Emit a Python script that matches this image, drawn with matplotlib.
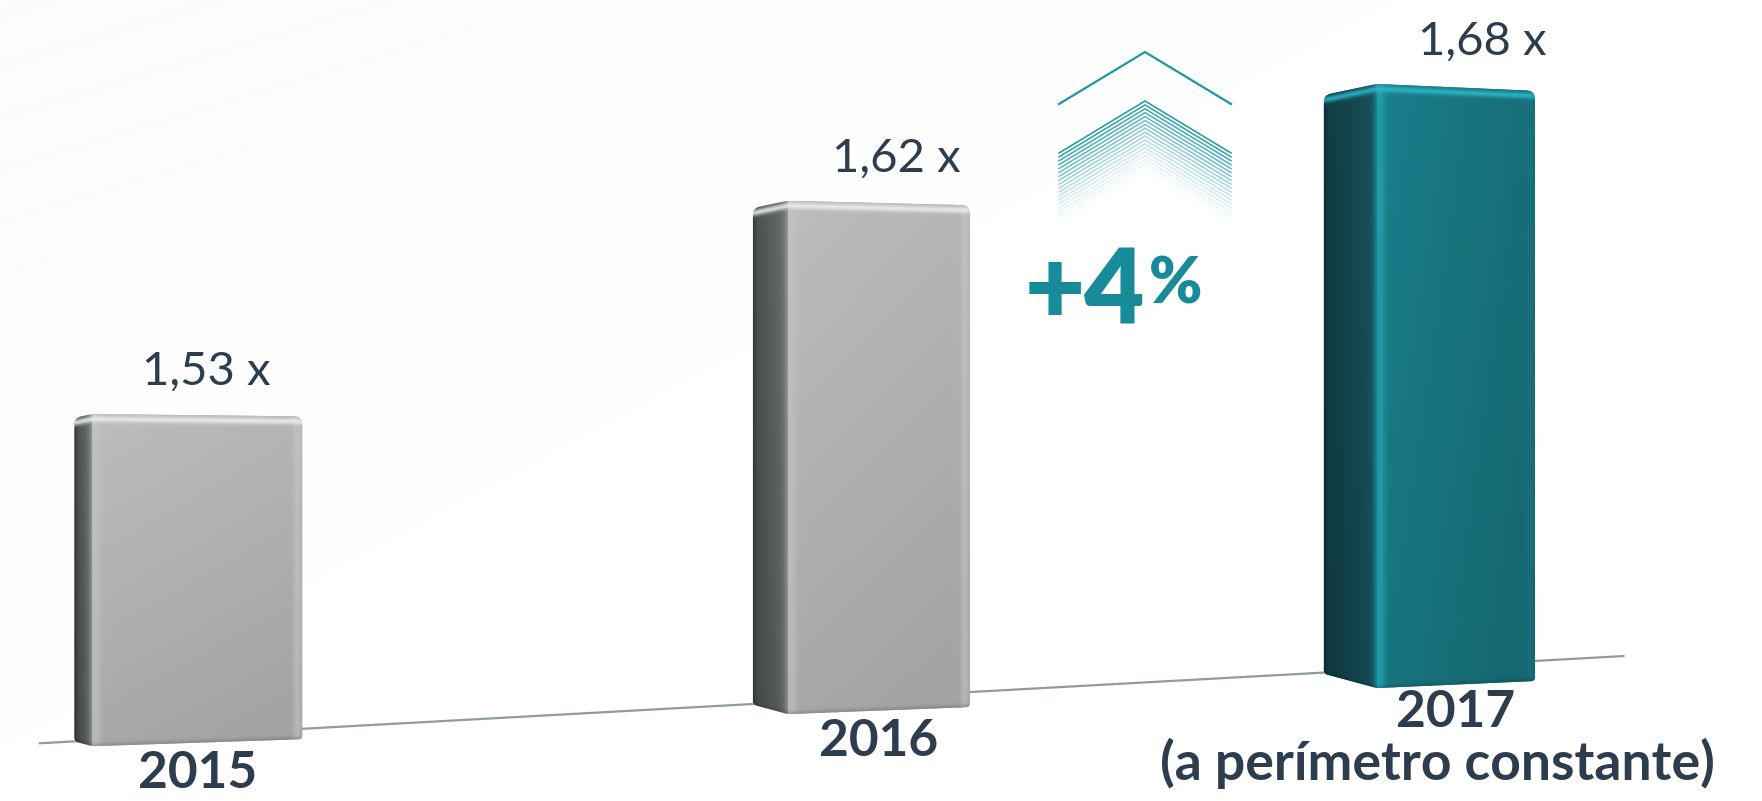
import numpy as np
import matplotlib
matplotlib.use("Agg")
import matplotlib.pyplot as plt
from matplotlib.path import Path
from matplotlib.patches import PathPatch

# ---------------- data ----------------
years = ["2015", "2016", "2017"]
year_notes = ["", "", "(a perímetro constante)"]
multiples = [1.53, 1.62, 1.68]
value_labels = ["1,53 x", "1,62 x", "1,68 x"]
growth_text = "+4"
growth_unit = "%"

# ---------------- style ----------------
W, H = 1762, 801
TEXT = "#2e3d4d"
TEAL = "#178b99"
FONT = ["Lato", "DejaVu Sans"]
PERSP = 0.0924                      # perspective factor of the x scale
YPERSP = 1.224                      # perspective offset of the y scale
XLIM = (-0.2524, 2.6647)
YLIM = (1.4157, 1.7287)
bar_widths = [0.310, 0.352, 0.403]  # data units (perspective)
side_px = [18, 35, 53]              # visible left side face, px
FLOOR = [(0.022, 0.072), (0.922, 0.181)]  # floor line, axes fraction

GRAY = dict(side0=(0.29, 0.31, 0.31), side1=(0.43, 0.45, 0.45),
            edge=(0.76, 0.77, 0.77), front0=(0.74, 0.74, 0.74),
            front1=(0.71, 0.71, 0.71), rim=(0.80, 0.81, 0.81),
            tophi=(0.93, 0.93, 0.93), vdark=0.11, base="#b0b0b0",
            edge_k=0.6, rim_k=0.45)
TEALP = dict(side0=(0.07, 0.24, 0.27), side1=(0.09, 0.33, 0.37),
             edge=(0.13, 0.63, 0.69), front0=(0.10, 0.50, 0.54),
             front1=(0.09, 0.43, 0.47), rim=(0.10, 0.46, 0.51),
             tophi=(0.17, 0.72, 0.79), vdark=0.08, base="#187a85",
             edge_k=0.85, rim_k=0.5)
palettes = [GRAY, GRAY, TEALP]

fig = plt.figure(figsize=(W / 100, H / 100), dpi=100)
fig.patch.set_facecolor("white")

# background axes (pixel coordinates)
axb = fig.add_axes([0, 0, 1, 1], zorder=0)
axb.set_xlim(0, W); axb.set_ylim(H, 0); axb.axis("off")

# data axes (perspective scales)
ax = fig.add_axes([0, 0, 1, 1], zorder=1)
ax.set_xscale("function", functions=(lambda x: x / (1 + PERSP * x),
                                     lambda g: g / (1 - PERSP * g)))
ax.set_yscale("function", functions=(lambda v: np.log(np.maximum(v - YPERSP, 1e-9)),
                                     lambda g: np.exp(g) + YPERSP))
ax.set_xlim(*XLIM); ax.set_ylim(*YLIM)
ax.patch.set_visible(False); ax.axis("off")

# overlay axes (pixel coordinates)
axo = fig.add_axes([0, 0, 1, 1], zorder=2)
axo.set_xlim(0, W); axo.set_ylim(H, 0); axo.axis("off")
axo.patch.set_visible(False)

# faint diagonal background stripes
yy, xx = np.mgrid[0:H, 0:W].astype(float)
stripe = (0.5 + 0.5 * np.sin(2 * np.pi * (yy + 0.30 * xx) / 52.0)) ** 2
mask = np.clip(1 - (xx / 1400 + yy / 750), 0, 1)
bg = 1 - 0.02 * stripe * mask
axb.imshow(np.dstack([bg, bg, bg]), extent=(0, W, H, 0), aspect="auto",
           interpolation="bilinear", zorder=0)

# floor line
(fx0, fy0), (fx1, fy1) = FLOOR
p0 = ax.transAxes.transform((fx0, fy0)); p1 = ax.transAxes.transform((fx1, fy1))
axb.plot([p0[0], p1[0]], [H - p0[1], H - p1[1]], color="#8e9ba6", lw=1.6,
         solid_capstyle="butt", zorder=1)


def floor_disp_y(xd):
    return p0[1] + (p1[1] - p0[1]) * (xd - p0[0]) / (p1[0] - p0[0])


# bar bottoms from the perspective floor
xs = np.arange(len(years))
bottoms = []
for x, s in zip(xs, side_px):
    cx = ax.transData.transform((x, multiples[0]))[0]
    dy = floor_disp_y(cx) - (6 + 0.29 * s)
    bottoms.append(ax.transData.inverted().transform((cx, dy))[1])
bottoms = np.array(bottoms)
heights = np.array(multiples) - bottoms
bars = ax.bar(xs, heights, bottom=bottoms, width=bar_widths,
              color=[p["base"] for p in palettes], linewidth=0)


def rounded_path(pts, radii):
    pts = [np.asarray(p, float) for p in pts]
    n = len(pts)
    verts, codes = [], []
    for i in range(n):
        a, b, c = pts[i - 1], pts[i], pts[(i + 1) % n]
        r = radii[i]
        if r <= 0:
            verts.append(b); codes.append(Path.LINETO)
            continue
        v1 = a - b; l1 = np.hypot(*v1)
        v2 = c - b; l2 = np.hypot(*v2)
        q1 = b + v1 / l1 * min(r, l1 / 2)
        q2 = b + v2 / l2 * min(r, l2 / 2)
        verts += [q1, b, q2]
        codes += [Path.LINETO, Path.CURVE3, Path.CURVE3]
    codes[0] = Path.MOVETO
    verts.append(verts[0]); codes.append(Path.CLOSEPOLY)
    return Path(verts, codes)


def lerp(c0, c1, t):
    t = t[..., None]
    return np.asarray(c0) * (1 - t) + np.asarray(c1) * t


def blend(col, target, k):
    return col * (1 - k)[..., None] + np.asarray(target) * k[..., None]


label_anchor = []
for bar, s, pal in zip(bars, side_px, palettes):
    ext = bar.get_window_extent()
    xl, xr = ext.x0, ext.x1
    top, bot = H - ext.y1, H - ext.y0
    xf = xl + s
    dts, dtr = 0.21 * s, 0.13 * s
    dbs, dbr = 0.27 * s, 7.0
    pts = [(xl, top + dts), (xf, top), (xr, top + dtr),
           (xr, bot - dbr), (xf, bot), (xl, bot - dbs)]
    radii = [7, 5, 8, 4, 3, 4]
    path = rounded_path(pts, radii)
    clip = PathPatch(path, transform=axo.transData, facecolor="none",
                     edgecolor="none")
    axo.add_patch(clip)
    bar.set_clip_path(path, axo.transData)

    # shading image
    x0, x1 = int(np.floor(xl)) - 1, int(np.ceil(xr)) + 1
    y0, y1 = int(np.floor(top)) - 1, int(np.ceil(bot)) + 1
    X, Y = np.meshgrid(np.arange(x0, x1) + 0.5, np.arange(y0, y1) + 0.5)
    fw = xr - xf
    ytop = np.where(X < xf, top + dts * np.clip(xf - X, 0, s) / s,
                    top + dtr * np.clip(X - xf, 0, fw) / fw)
    ybot = np.where(X < xf, bot - dbs * np.clip(xf - X, 0, s) / s,
                    bot - dbr * np.clip(X - xf, 0, fw) / fw)
    dtop = Y - ytop
    dbot = ybot - Y
    vert = np.clip((Y - top) / (bot - top), 0, 1)

    tside = np.clip((X - xl) / s, 0, 1)
    tfront = np.clip((X - xf) / fw, 0, 1)
    col_side = lerp(pal["side0"], pal["side1"], tside ** 1.3)
    col_front = lerp(pal["front0"], pal["front1"], tfront)
    col = np.where((X < xf)[..., None], col_side, col_front)
    col = col * (1 - pal["vdark"] * vert)[..., None]
    # soft highlight at the front vertical edge
    h = np.exp(-((X - (xf + 3.0)) / 5.5) ** 2)
    col = blend(col, pal["edge"], pal["edge_k"] * h)
    # soft left edge
    le = np.exp(-((X - xl) / 3.0) ** 2)
    col = col * (1 - 0.25 * le)[..., None]
    # right rim light
    rr = np.exp(-((xr - X - 5) / 4.0) ** 2)
    col = blend(col, pal["rim"], pal["rim_k"] * rr)
    # top rim highlight
    tr = np.exp(-((dtop - 5.0) / 3.2) ** 2)
    col = blend(col, pal["tophi"], 0.85 * tr)
    # bottom shadow
    bs = np.exp(-(dbot / 3.0) ** 2)
    col = col * (1 - 0.15 * bs)[..., None]
    col = np.clip(col, 0, 1)
    im = axo.imshow(col, extent=(x0, x1, y1, y0), interpolation="bilinear",
                    aspect="auto", zorder=3)
    im.set_clip_path(clip)
    label_anchor.append(((xf + xr) / 2, top, bot, s))

axo.set_xlim(0, W); axo.set_ylim(H, 0)

# value labels and year labels
for (fc, top, bot, s), vl, yr, note in zip(label_anchor, value_labels, years, year_notes):
    axo.text(fc + 0.5 * s, top - 29, vl, ha="center", va="baseline",
             fontsize=34, color=TEXT, family=FONT, zorder=5)
    yoff = 39 if note else 42
    axo.text(fc, bot + yoff, yr, ha="center", va="baseline", fontsize=37,
             fontweight="bold", color=TEXT, family=FONT, zorder=5)
    if note:
        axo.text(fc - 18, bot + 92, note, ha="center", va="baseline",
                 fontsize=38.5, fontweight="bold", color=TEXT, family=FONT,
                 zorder=5)

# growth chevrons and label
cx, ytip, half, drop = 1145, 52, 86, 52
axo.plot([cx - half, cx, cx + half], [ytip + drop, ytip, ytip + drop],
         color="#1a98a6", lw=1.6, zorder=4)
n_lines = 20
for i in range(n_lines):
    a = (1 - i / n_lines) ** 1.6
    yt = 101 + 3.9 * i
    axo.plot([cx - half, cx, cx + half], [yt + drop, yt, yt + drop],
             color="#1a98a6", lw=1.1, alpha=a, zorder=4)

axo.text(1145, 325, growth_text, ha="right", va="baseline", fontsize=75,
         fontweight="heavy", color=TEAL, family=FONT, zorder=5)
axo.text(1149, 303, growth_unit, ha="left", va="baseline", fontsize=46,
         fontweight="heavy", color=TEAL, family=FONT, zorder=5)

fig.savefig("out.png", dpi=100, facecolor="white")
